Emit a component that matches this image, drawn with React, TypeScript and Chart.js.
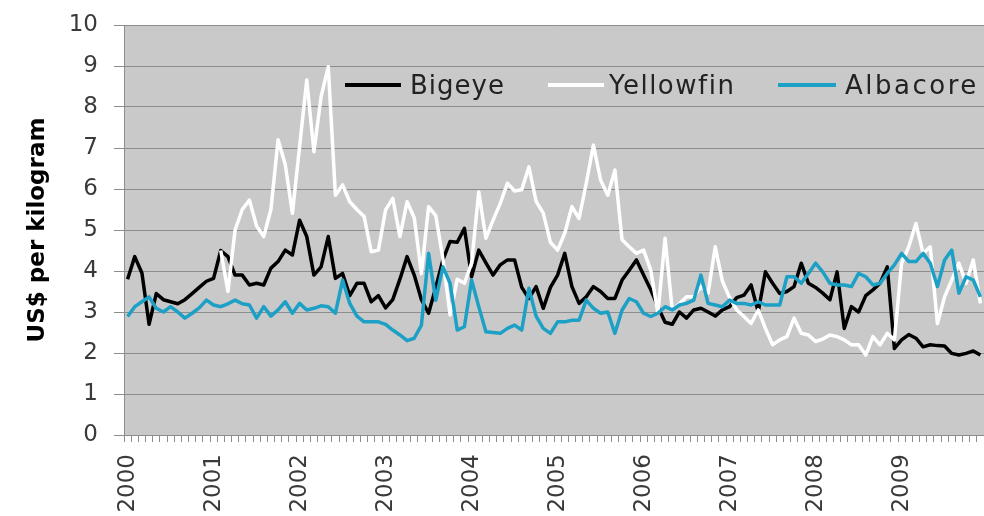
import React, { useEffect, useRef } from 'react';
import { Chart, registerables } from 'chart.js';

Chart.register(...registerables);

// ---- data ----
const years = [2000, 2001, 2002, 2003, 2004, 2005, 2006, 2007, 2008, 2009];
const monthNames = ['01', '02', '03', '04', '05', '06', '07', '08', '09', '10', '11', '12'];
const categories = years.flatMap((y) => monthNames.map((m) => `${y}-${m}`));

const seriesNames = ['Bigeye', 'Yellowfin', 'Albacore'];
const seriesColors = ['#000000', '#ffffff', '#1ca0c6'];

const bigeye = [
  3.8, 4.35, 3.95, 2.7, 3.45, 3.3, 3.25, 3.2, 3.3, 3.45, 3.6, 3.75,
  3.82, 4.5, 4.35, 3.9, 3.9, 3.66, 3.7, 3.66, 4.07, 4.23, 4.51, 4.39,
  5.24, 4.84, 3.9, 4.1, 4.84, 3.82, 3.94, 3.4, 3.7, 3.7, 3.25, 3.4,
  3.1, 3.3, 3.8, 4.35, 3.9, 3.3, 2.97, 3.6, 4.27, 4.72, 4.7, 5.04,
  3.86, 4.51, 4.2, 3.9, 4.15, 4.27, 4.27, 3.6, 3.33, 3.62, 3.09, 3.6,
  3.9, 4.43, 3.62, 3.21, 3.37, 3.62, 3.5, 3.33, 3.33, 3.78, 4.02, 4.27,
  3.9, 3.54, 3.13, 2.75, 2.7, 3.0, 2.85, 3.05, 3.09, 3.0, 2.9, 3.05,
  3.13, 3.35, 3.41, 3.66, 3.0, 3.98, 3.7, 3.45, 3.5, 3.62, 4.19, 3.7,
  3.6, 3.46, 3.3, 3.98, 2.6, 3.13, 3.0, 3.4, 3.54, 3.7, 4.1, 2.11,
  2.32, 2.45, 2.36, 2.15, 2.2, 2.18, 2.17, 1.99, 1.95, 1.99, 2.05, 1.95,
];

const yellowfin = [
  null, null, null, null, null, null, null, null, null, null, null, null,
  null, 4.5, 3.5, 5.0, 5.5, 5.73, 5.1, 4.84, 5.5, 7.2, 6.6, 5.41,
  7.03, 8.66, 6.91, 8.25, 8.98, 5.85, 6.1, 5.69, 5.5, 5.33, 4.47, 4.51,
  5.49, 5.77, 4.84, 5.69, 5.3, 3.94, 5.57, 5.35, 4.3, 2.93, 3.8, 3.7,
  4.19, 5.93, 4.8, 5.24, 5.65, 6.14, 5.95, 5.98, 6.54, 5.7, 5.41, 4.7,
  4.51, 4.92, 5.57, 5.28, 6.14, 7.07, 6.22, 5.85, 6.46, 4.76, 4.59, 4.43,
  4.51, 4.02, 2.97, 4.8, 3.05, 3.2, 3.37, 3.37, 3.62, 3.46, 4.59, 3.75,
  3.35, 3.05, 2.89, 2.72, 3.05, 2.6, 2.2, 2.32, 2.4, 2.85, 2.48, 2.44,
  2.28, 2.34, 2.44, 2.4, 2.32, 2.2, 2.2, 1.95, 2.4, 2.2, 2.48, 2.32,
  4.19, 4.59, 5.16, 4.43, 4.59, 2.72, 3.37, 3.78, 4.19, 3.7, 4.27, 3.21,
];

const albacore = [
  2.89, 3.13, 3.25, 3.37, 3.09, 3.0, 3.13, 3.0, 2.85, 2.97, 3.1, 3.29,
  3.17, 3.13, 3.2, 3.29, 3.2, 3.17, 2.85, 3.13, 2.9, 3.05, 3.25, 2.97,
  3.21, 3.05, 3.09, 3.15, 3.13, 2.97, 3.78, 3.21, 2.9, 2.76, 2.76, 2.76,
  2.7, 2.56, 2.44, 2.3, 2.36, 2.68, 4.43, 3.29, 4.1, 3.7, 2.56, 2.64,
  3.78, 3.13, 2.52, 2.5, 2.48, 2.6, 2.68, 2.56, 3.58, 2.9, 2.6, 2.48,
  2.76, 2.76, 2.8, 2.8, 3.29, 3.09, 2.97, 3.0, 2.48, 3.05, 3.33, 3.25,
  2.97, 2.89, 2.97, 3.13, 3.05, 3.17, 3.21, 3.29, 3.9, 3.21, 3.17, 3.13,
  3.29, 3.21, 3.21, 3.17, 3.25, 3.17, 3.17, 3.17, 3.86, 3.86, 3.7, 3.94,
  4.19, 3.98, 3.7, 3.66, 3.66, 3.62, 3.94, 3.86, 3.66, 3.7, 3.94, 4.15,
  4.43, 4.23, 4.23, 4.43, 4.19, 3.62, 4.27, 4.51, 3.46, 3.86, 3.78, 3.37,
];

const yTitle = 'US$ per kilogram';

// ---- style ----
const FONT = "'DejaVu Sans', sans-serif";
const GRID = '#8d8d8d';
const PLOT_BG = '#c9c9c9';
const legendLayout = [
  { lineLeft: 345, lineWidth: 56, textLeft: 410, spacing: 1 },
  { lineLeft: 548, lineWidth: 56, textLeft: 609, spacing: 1.5 },
  { lineLeft: 778, lineWidth: 58, textLeft: 845, spacing: 2.5 },
];

const plotBg = {
  id: 'plotBg',
  beforeDraw(chart: any) {
    const { ctx, chartArea: a } = chart;
    if (!a) return;
    ctx.save();
    ctx.fillStyle = PLOT_BG;
    ctx.fillRect(a.left, a.top, a.right - a.left, a.bottom - a.top);
    ctx.restore();
  },
};

export default function App() {
  const ref = useRef<HTMLCanvasElement | null>(null);

  useEffect(() => {
    if (!ref.current) return;
    const series = [bigeye, yellowfin, albacore];
    const chart = new Chart(ref.current, {
      type: 'line',
      data: {
        labels: categories,
        datasets: series.map((d, i) => ({
          label: seriesNames[i],
          data: d,
          borderColor: seriesColors[i],
          backgroundColor: seriesColors[i],
          borderWidth: 3.5,
          pointRadius: 0,
          tension: 0,
          fill: false,
          order: 3 - i,
          borderJoinStyle: 'round' as const,
        })),
      },
      options: {
        responsive: false,
        animation: false,
        devicePixelRatio: 1,
        layout: { padding: { top: 25, left: 0, right: 0, bottom: 0 } },
        plugins: {
          legend: { display: false },
          tooltip: { enabled: false },
        },
        scales: {
          x: {
            type: 'category',
            offset: true,
            grid: {
              display: true,
              drawOnChartArea: false,
              drawTicks: true,
              tickLength: 7,
              color: GRID,
              offset: true,
            },
            border: { display: true, color: GRID, width: 1 },
            ticks: {
              autoSkip: false,
              maxRotation: 90,
              minRotation: 90,
              padding: 12,
              color: '#3a3a3a',
              font: { family: FONT, size: 23 },
              callback: (_v: any, idx: number) =>
                idx % 12 === 0 ? categories[idx].slice(0, 4) : '',
            },
            afterFit: (s: any) => {
              s.height = 81;
              s.paddingLeft = 0;
              s.paddingRight = 0;
            },
          },
          y: {
            min: 0,
            max: 10,
            ticks: {
              stepSize: 1,
              padding: 16,
              color: '#3a3a3a',
              font: { family: FONT, size: 23 },
            },
            grid: { color: GRID, tickLength: 10, drawTicks: true },
            border: { display: true, color: GRID, width: 1 },
            title: {
              display: true,
              text: yTitle,
              color: '#000000',
              font: { family: FONT, size: 23, weight: 'bold' },
              padding: { top: 24, bottom: 0 },
            },
            afterFit: (s: any) => {
              s.width = 124;
              s.paddingTop = 0;
              s.paddingBottom = 0;
            },
          },
        },
      },
      plugins: [plotBg],
    } as any);
    return () => chart.destroy();
  }, []);

  return (
    <div style={{ position: 'fixed', left: 0, top: 0, width: 984, height: 516, background: '#ffffff' }}>
      <canvas ref={ref} width={984} height={516} style={{ display: 'block', width: 984, height: 516 }} />
      {seriesNames.map((name, i) => (
        <React.Fragment key={name}>
          <div
            style={{
              position: 'absolute',
              left: legendLayout[i].lineLeft,
              top: 83,
              width: legendLayout[i].lineWidth,
              height: 4,
              background: seriesColors[i],
            }}
          />
          <div
            style={{
              position: 'absolute',
              left: legendLayout[i].textLeft,
              top: 70,
              height: 30,
              lineHeight: '30px',
              fontFamily: FONT,
              fontSize: 26,
              letterSpacing: `${legendLayout[i].spacing}px`,
              color: '#222222',
              whiteSpace: 'nowrap',
            }}
          >
            {name}
          </div>
        </React.Fragment>
      ))}
    </div>
  );
}
